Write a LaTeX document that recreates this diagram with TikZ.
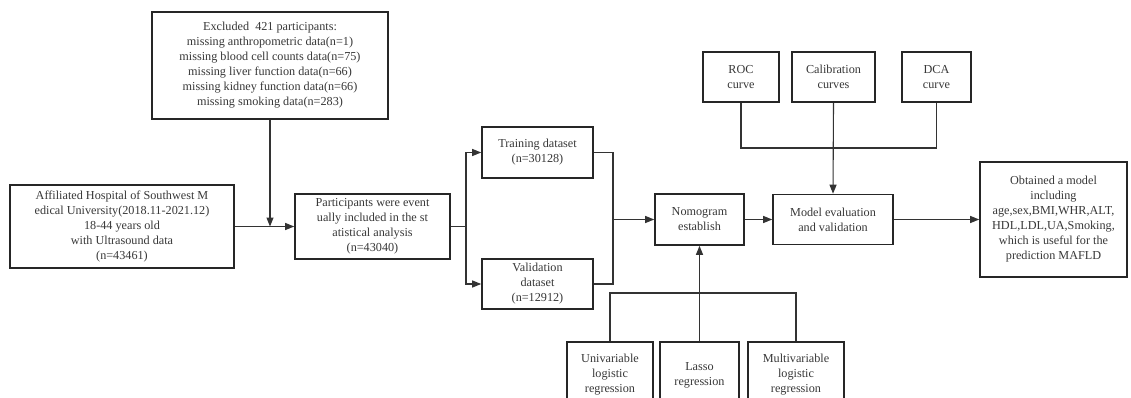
\documentclass[tikz,border=0pt]{standalone}
\usepackage{fontspec}
\setmainfont{Liberation Serif}
\usetikzlibrary{arrows.meta,calc}
\begin{document}
\begin{tikzpicture}[x=1pt,y=-1pt,
  box/.style={draw=black!85,line width=1.6pt,align=center,inner sep=1pt,
    font=\fontsize{12.2}{15}\selectfont,text=black!78},
  conn/.style={draw=black!80,line width=1.1pt},
  arr/.style={conn,-{Triangle[length=9pt,width=7pt]}}]
\useasboundingbox (0,0) rectangle (1131,398);
\clip (0,0) rectangle (1131,398);
\fill[white] (0,0) rectangle (1131,398);
% boxes
\node[box,minimum width=236pt,minimum height=107pt] (excl) at (270,65.5)
 {Excluded\ \ 421 participants:\\missing anthropometric data(n=1)\\missing blood cell counts data(n=75)\\missing liver function data(n=66)\\missing kidney function data(n=66)\\missing smoking data(n=283)};
\node[box,minimum width=224pt,minimum height=83pt] (aff) at (122,226.5)
 {Affiliated Hospital of Southwest M\\edical University(2018.11-2021.12)\\18-44 years old\\with Ultrasound data\\(n=43461)};
\node[box,minimum width=155pt,minimum height=65pt] (part) at (372.5,226.5)
 {Participants were event\\ually included in the st\\atistical analysis\\(n=43040)};
\node[box,minimum width=111pt,minimum height=51pt] (train) at (537.5,152.5)
 {Training dataset\\(n=30128)};
\node[box,minimum width=111pt,minimum height=50pt] (valid) at (537.5,284)
 {Validation\\dataset\\(n=12912)};
\node[box,minimum width=89pt,minimum height=51pt] (nomo) at (699.5,219.5)
 {Nomogram\\establish};
\node[box,minimum width=120pt,minimum height=50pt] (model) at (833,219.5)
 {Model evaluation\\and validation};
\node[box,minimum width=147pt,minimum height=115pt] (obt) at (1053.5,219.5)
 {Obtained a model\\including\\age,sex,BMI,WHR,ALT,\\HDL,LDL,UA,Smoking,\\which is useful for the\\prediction MAFLD};
\node[box,minimum width=76pt,minimum height=50pt] (roc) at (741,77) {ROC\\curve};
\node[box,minimum width=83pt,minimum height=50pt] (cal) at (833.5,77) {Calibration\\curves};
\node[box,minimum width=69pt,minimum height=50pt] (dca) at (936.5,77) {DCA\\curve};
\node[box,minimum width=86pt,minimum height=66pt] (uni) at (610,375) {Univariable\\logistic\\regression};
\node[box,minimum width=79pt,minimum height=66pt] (lasso) at (699.5,375) {Lasso\\regression};
\node[box,minimum width=96pt,minimum height=66pt] (multi) at (796,375) {Multivariable\\logistic\\regression};
% junction coordinates
\coordinate (br) at (466,226.5);
\coordinate (jn) at (613,219.5);
\coordinate (tj) at (833.5,148);
\coordinate (bj) at (699.5,293);
% connectors
\draw[arr] (excl.south) -- (excl.south |- aff.east);
\draw[arr] (aff.east) -- (part.west);
\draw[conn] (part.east) -- (br);
\draw[arr] (br) |- (train.west);
\draw[arr] (br) |- (valid.west);
\draw[conn] (train.east) -| (jn);
\draw[conn] (valid.east) -| (jn);
\draw[arr] (jn) -- (nomo.west);
\draw[arr] (nomo.east) -- (model.west);
\draw[arr] (model.east) -- (obt.west);
\draw[conn] (roc.south) |- (tj);
\draw[conn] (dca.south) |- (tj);
\draw[arr] (cal.south) -- (model.north);
\draw[conn] (uni.north) |- (bj);
\draw[conn] (multi.north) |- (bj);
\draw[arr] (lasso.north) -- (nomo.south);
\end{tikzpicture}
\end{document}
